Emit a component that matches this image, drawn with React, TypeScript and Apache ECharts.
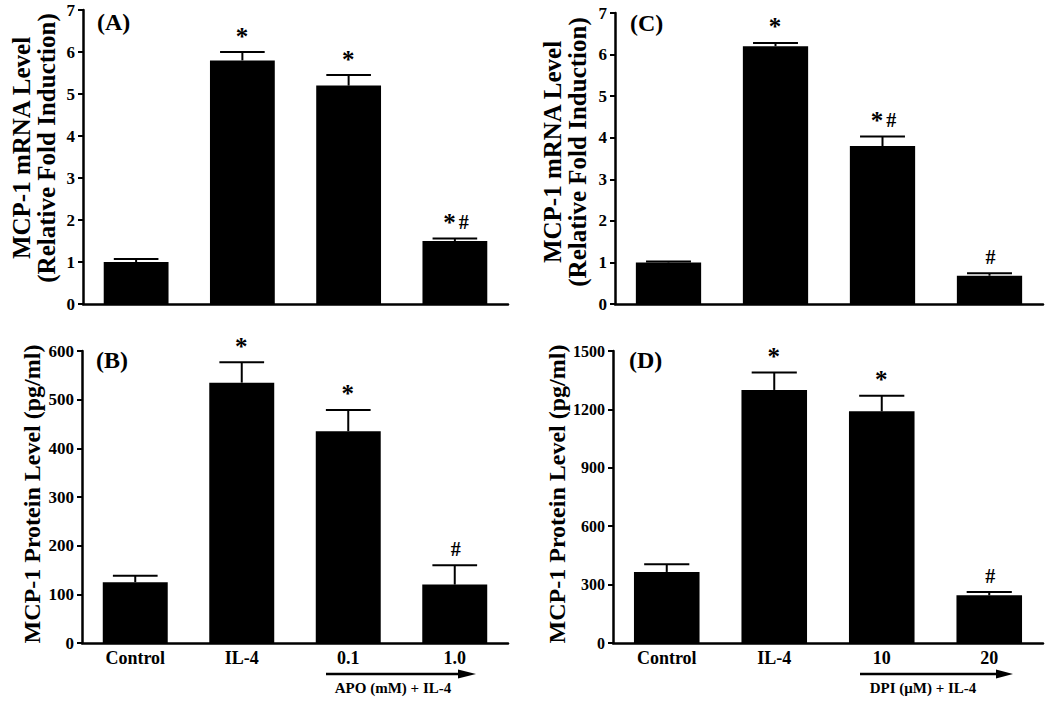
import React, { useEffect, useRef } from "react";
import * as echarts from "echarts";

const catsAB = ["Control", "IL-4", "0.1", "1.0"];
const catsCD = ["Control", "IL-4", "10", "20"];

const aVals = [1.0, 5.8, 5.2, 1.5];
const aErr = [0.07, 0.2, 0.25, 0.06];
const aMarks = ["", "*", "*", "*#"];

const bVals = [125, 535, 435, 120];
const bErr = [13, 42, 44, 40];
const bMarks = ["", "*", "*", "#"];

const cVals = [1.0, 6.2, 3.8, 0.68];
const cErr = [0.02, 0.08, 0.23, 0.06];
const cMarks = ["", "*", "*#", "#"];

const dVals = [365, 1300, 1190, 245];
const dErr = [40, 90, 80, 17];
const dMarks = ["", "*", "*", "#"];

const yTicksMRNA = { min: 0, max: 7, interval: 1 };
const yTicksB = { min: 0, max: 600, interval: 100 };
const yTicksD = { min: 0, max: 1500, interval: 300 };

const FONT = '"Liberation Serif", "Times New Roman", serif';

export default function App() {
  const ref = useRef<HTMLDivElement>(null);
  useEffect(() => {
    if (!ref.current) return;
    const chart = echarts.init(ref.current, undefined, { renderer: "svg" });

    const grids = [
      { left: 83, top: 10, width: 425, height: 294 },
      { left: 82, top: 351, width: 426, height: 292 },
      { left: 615, top: 13, width: 428, height: 291 },
      { left: 613, top: 351, width: 430, height: 292 },
    ];
    const cats = [catsAB, catsAB, catsCD, catsCD];
    const showX = [false, true, false, true];
    const yScales = [yTicksMRNA, yTicksB, yTicksMRNA, yTicksD];
    const yLabelSize = [17, 17, 17, 16];
    const vals = [aVals, bVals, cVals, dVals];
    const errs = [aErr, bErr, cErr, dErr];
    const marks = [aMarks, bMarks, cMarks, dMarks];

    const xAxis = grids.map((_, i) => ({
      type: "category",
      gridIndex: i,
      data: cats[i],
      boundaryGap: true,
      axisLine: { show: true, lineStyle: { color: "#000", width: 2.5 } },
      axisTick: { show: false },
      axisLabel: {
        show: showX[i],
        color: "#000",
        fontFamily: FONT,
        fontWeight: "bold",
        fontSize: 18,
        margin: 6,
      },
      splitLine: { show: false },
    }));

    const yAxis = grids.map((_, i) => ({
      type: "value",
      gridIndex: i,
      min: yScales[i].min,
      max: yScales[i].max,
      interval: yScales[i].interval,
      axisLine: { show: true, lineStyle: { color: "#000", width: 2.5 } },
      axisTick: { show: true, length: 5, lineStyle: { color: "#000", width: 2 } },
      axisLabel: {
        color: "#000",
        fontFamily: FONT,
        fontWeight: "bold",
        fontSize: yLabelSize[i],
        margin: 8,
        formatter: (v: number) => String(v),
      },
      splitLine: { show: false },
    }));

    const markText = (s: string) =>
      s
        .split("")
        .map((ch) => (ch === "*" ? "{s|*}" : "{h|#}"))
        .join("");

    const series: any[] = [];
    grids.forEach((_, i) => {
      series.push({
        type: "bar",
        xAxisIndex: i,
        yAxisIndex: i,
        data: vals[i],
        barWidth: "61%",
        itemStyle: { color: "#000" },
      });
      const m = marks[i];
      series.push({
        type: "custom",
        xAxisIndex: i,
        yAxisIndex: i,
        encode: { x: 0, y: 1 },
        data: vals[i].map((v, k) => [k, v, errs[i][k]]),
        renderItem: (params: any, api: any) => {
          const k = api.value(0);
          const v = api.value(1);
          const e = api.value(2);
          const top = api.coord([k, v]);
          const et = api.coord([k, v + e]);
          const w = api.size([1, 0])[0] * 0.21;
          const children: any[] = [
            {
              type: "line",
              shape: { x1: top[0], y1: top[1], x2: et[0], y2: et[1] },
              style: { stroke: "#000", lineWidth: 2 },
            },
            {
              type: "line",
              shape: { x1: et[0] - w, y1: et[1], x2: et[0] + w, y2: et[1] },
              style: { stroke: "#000", lineWidth: 2 },
            },
          ];
          if (m[k]) {
            children.push({
              type: "text",
              x: et[0] + 1,
              y: et[1] - 5,
              style: {
                text: markText(m[k]),
                fill: "#000",
                align: "center",
                verticalAlign: "bottom",
                rich: {
                  s: { font: `bold 25px ${FONT}`, fill: "#000", lineHeight: 22, padding: [0, 3, 0, 0] },
                  h: { font: `bold 20px ${FONT}`, fill: "#000", lineHeight: 22 },
                },
              },
            });
          }
          return { type: "group", children };
        },
      });
    });

    const textStyle = (size: number) => ({
      fill: "#000",
      font: `bold ${size}px ${FONT}`,
    });

    const graphic: any[] = [
      // panel letters
      { type: "text", left: 97, top: 10, style: { text: "(A)", ...textStyle(24) } },
      { type: "text", left: 96, top: 348, style: { text: "(B)", ...textStyle(24) } },
      { type: "text", left: 630, top: 11, style: { text: "(C)", ...textStyle(24) } },
      { type: "text", left: 629, top: 348, style: { text: "(D)", ...textStyle(24) } },
      // y axis names
      {
        type: "text",
        x: 34,
        y: 148,
        rotation: Math.PI / 2,
        style: {
          text: "MCP-1 mRNA Level\n(Relative Fold Induction)",
          ...textStyle(25),
          lineHeight: 25,
          align: "center",
          verticalAlign: "middle",
        },
      },
      {
        type: "text",
        x: 32,
        y: 494,
        rotation: Math.PI / 2,
        style: {
          text: "MCP-1 Protein Level (pg/ml)",
          ...textStyle(24),
          align: "center",
          verticalAlign: "middle",
        },
      },
      {
        type: "text",
        x: 565,
        y: 152,
        rotation: Math.PI / 2,
        style: {
          text: "MCP-1 mRNA Level\n(Relative Fold Induction)",
          ...textStyle(25),
          lineHeight: 25,
          align: "center",
          verticalAlign: "middle",
        },
      },
      {
        type: "text",
        x: 557,
        y: 494,
        rotation: Math.PI / 2,
        style: {
          text: "MCP-1 Protein Level (pg/ml)",
          ...textStyle(24),
          align: "center",
          verticalAlign: "middle",
        },
      },
      // arrows
      {
        type: "line",
        shape: { x1: 326, y1: 674, x2: 462, y2: 674 },
        style: { stroke: "#000", lineWidth: 2.5 },
      },
      {
        type: "polygon",
        shape: { points: [[458, 669.5], [476, 674], [458, 678.5]] },
        style: { fill: "#000" },
      },
      {
        type: "text",
        x: 393,
        y: 688,
        style: { text: "APO (mM) + IL-4", ...textStyle(15), align: "center", verticalAlign: "middle" },
      },
      {
        type: "line",
        shape: { x1: 860, y1: 674, x2: 1000, y2: 674 },
        style: { stroke: "#000", lineWidth: 2.5 },
      },
      {
        type: "polygon",
        shape: { points: [[996, 669.5], [1013, 674], [996, 678.5]] },
        style: { fill: "#000" },
      },
      {
        type: "text",
        x: 923,
        y: 688,
        style: { text: "DPI (μM) + IL-4", ...textStyle(15), align: "center", verticalAlign: "middle" },
      },
    ];

    chart.setOption({
      animation: false,
      backgroundColor: "#fff",
      grid: grids.map((g) => ({ ...g, containLabel: false })),
      xAxis,
      yAxis,
      series,
      graphic,
    });
    return () => chart.dispose();
  }, []);
  return (
    <div
      ref={ref}
      style={{ position: "fixed", left: 0, top: 0, width: 1050, height: 704, background: "#fff" }}
    />
  );
}
